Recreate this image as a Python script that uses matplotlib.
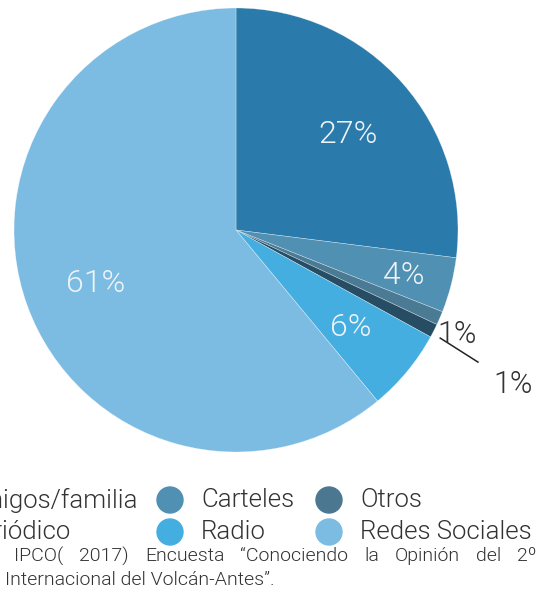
import numpy as np
import matplotlib
matplotlib.use("Agg")
import matplotlib.pyplot as plt

labels = ["Amigos/familia", "Carteles", "Otros", "Periódico", "Radio", "Redes Sociales"]
values = [27, 4, 1, 1, 6, 61]
colors = ["#2a7bab", "#4f90b3", "#4a7a94", "#274d64", "#45aee0", "#7cbce3"]
footer = ["IPCO( 2017) Encuesta “Conociendo la Opinión del 2º",
          "Internacional del Volcán-Antes”."]

FONT = ["Roboto", "DejaVu Sans"]
WT = 300
W, H = 544, 595
fig = plt.figure(figsize=(W / 100, H / 100), dpi=100)

# pie axes: centre (236, 230) px, radius 222 px
cx, cy, r = 236, 230, 222
ax = fig.add_axes([(cx - r) / W, 1 - (cy + r) / H, 2 * r / W, 2 * r / H])
wedges, _ = ax.pie(values, colors=colors, startangle=90, counterclock=False,
                   radius=1, wedgeprops=dict(linewidth=0.4, edgecolor="#ffffff80"))
ax.set_xlim(-1, 1)
ax.set_ylim(-1, 1)
ax.set_aspect("equal")
ax.axis("off")

# percentage labels
for i, w in enumerate(wedges):
    mid = np.deg2rad((w.theta1 + w.theta2) / 2)
    txt = f"{values[i]}%"
    if values[i] >= 4:
        d = 0.78 if values[i] == 4 else 0.67
        ax.text(d * np.cos(mid), d * np.sin(mid) - 0.012, txt, ha="center", va="center",
                color="#eef4f8", fontsize=23, family=FONT, fontweight=WT)

# small slices labelled outside
m_otros = np.deg2rad((wedges[2].theta1 + wedges[2].theta2) / 2)
m_per = np.deg2rad((wedges[3].theta1 + wedges[3].theta2) / 2)
ax.text(1.1 * np.cos(m_otros) - 0.015, 1.1 * np.sin(m_otros) - 0.035, f"{values[2]}%",
        ha="center", va="center", color="#333333", fontsize=22, family=FONT, fontweight=WT)
ax.text(1.42 * np.cos(m_per) - 0.016, 1.42 * np.sin(m_per) - 0.05, f"{values[3]}%",
        ha="center", va="center", color="#333333", fontsize=22, family=FONT, fontweight=WT)
ax.plot([0.92, 1.09], [-0.487, -0.595], color="#222222", lw=1.1, clip_on=False)

# legend (left column is cut off in the original)
col_x = [-66, 170, 329]
row_y = [500, 532]
for i, lab in enumerate(labels):
    x = col_x[i % 3]
    y = row_y[i // 3]
    fig.patches.append(matplotlib.patches.Ellipse(
        (x / W, 1 - y / H), 26 / W, 26 / H, transform=fig.transFigure,
        color=colors[i] if i != 2 else "#4b7890", zorder=5))
    fig.text((x + 31) / W, 1 - y / H, lab, ha="left", va="center",
             fontsize=18.6, color="#333333", family=FONT, fontweight=WT)

# footer, first line justified
fig.canvas.draw()
rend = fig.canvas.get_renderer()
words = footer[0].split(" ")
left, right, fy = 14, 537, 556
ts = [fig.text(0, 1 - fy / H, w_, fontsize=14, color="#333333", family=FONT,
               fontweight=WT, va="center") for w_ in words]
widths = [t.get_window_extent(rend).width for t in ts]
gap = (right - left - sum(widths)) / (len(words) - 1)
x = left
for t, wd in zip(ts, widths):
    t.set_x(x / W)
    x += wd + gap
fig.text(5 / W, 1 - 580 / H, footer[1], fontsize=14, color="#333333",
         family=FONT, fontweight=WT, va="center")

fig.savefig("out.png", dpi=100)
